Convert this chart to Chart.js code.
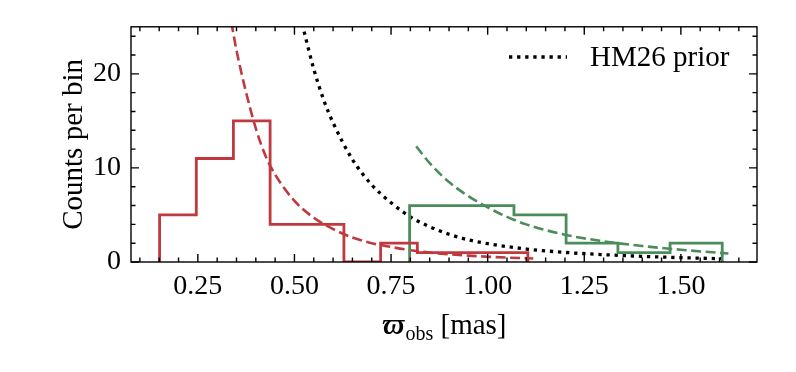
<!DOCTYPE html>
<html>
<head>
<meta charset="utf-8">
<script src="https://cdn.jsdelivr.net/npm/chart.js@4.4.0/dist/chart.umd.min.js"></script>
<style>
  html, body { margin: 0; padding: 0; background: #fff; }
</style>
</head>
<body>
<canvas id="chart" width="796" height="372"></canvas>
<script>
// histogram bins
const redEdges = [0.151, 0.246, 0.342, 0.437, 0.532, 0.628, 0.723, 0.818, 0.914, 1.009, 1.104];
const redCounts = [5, 11, 15, 4, 4, 0, 2, 1, 1, 1];
const greenEdges = [0.798, 0.933, 1.068, 1.203, 1.337, 1.472, 1.607];
const greenCounts = [6, 6, 5, 2, 1, 2];

// dashed model curves (estimated)
const redModelX = [0.33, 0.35, 0.375, 0.40, 0.425, 0.45, 0.50, 0.55, 0.60, 0.65, 0.70, 0.75, 0.80, 0.85, 0.90, 0.95, 1.00, 1.05, 1.118];
const redModelY = [27, 22.5, 18, 14.2, 11.3, 9.3, 6.5, 4.7, 3.5, 2.6, 2.0, 1.6, 1.25, 1.0, 0.82, 0.68, 0.56, 0.47, 0.38];
const greenModelX = [0.815, 0.85, 0.90, 0.95, 1.00, 1.05, 1.10, 1.20, 1.30, 1.40, 1.50, 1.623];
const greenModelY = [12.3, 10.5, 8.5, 7.0, 5.8, 4.8, 4.0, 2.9, 2.2, 1.7, 1.3, 0.9];

// HM26 prior (dotted)
const priorX = [0.51, 0.525, 0.55, 0.575, 0.60, 0.65, 0.70, 0.75, 0.80, 0.85, 0.90, 0.95, 1.00, 1.10, 1.20, 1.30, 1.40, 1.50, 1.607];
const priorY = [27, 24.5, 20.5, 17.3, 14.8, 10.9, 8.2, 6.3, 4.8, 3.75, 2.95, 2.35, 1.95, 1.38, 1.02, 0.78, 0.6, 0.46, 0.35];

const xTicks = [0.25, 0.50, 0.75, 1.00, 1.25, 1.50];
const xMinorTicks = [0.10, 0.15, 0.20, 0.30, 0.35, 0.40, 0.45, 0.55, 0.60, 0.65, 0.70, 0.80, 0.85, 0.90, 0.95, 1.05, 1.10, 1.15, 1.20, 1.30, 1.35, 1.40, 1.45, 1.55, 1.60, 1.65];
const yTicks = [0, 10, 20];
const yMinorTicks = [2, 4, 6, 8, 12, 14, 16, 18, 22, 24];

const RED = '#c0393f';
const GREEN = '#4b8c5b';
const FONT = '"Liberation Serif", "DejaVu Serif", serif';
const DOTS = [3.3, 4.8];

function stepOutline(edges, counts) {
  const pts = [{ x: edges[0], y: 0 }];
  counts.forEach((c, i) => {
    pts.push({ x: edges[i], y: c });
    pts.push({ x: edges[i + 1], y: c });
  });
  pts.push({ x: edges[edges.length - 1], y: 0 });
  return pts;
}

function zipXY(xs, ys) {
  return xs.map((x, i) => ({ x: x, y: ys[i] }));
}

// frame + inward ticks on all four sides, axis titles, legend
const decorations = {
  id: 'decorations',
  afterDraw(chart) {
    const ctx = chart.ctx;
    const a = chart.chartArea;
    const xs = chart.scales.x, ys = chart.scales.y;
    ctx.save();
    ctx.strokeStyle = '#000';
    ctx.lineWidth = 1.4;
    ctx.strokeRect(a.left, a.top, a.right - a.left, a.bottom - a.top);

    const tick = (px, len, vertical) => {
      ctx.beginPath();
      if (vertical) {
        ctx.moveTo(px, a.bottom); ctx.lineTo(px, a.bottom - len);
        ctx.moveTo(px, a.top); ctx.lineTo(px, a.top + len);
      } else {
        ctx.moveTo(a.left, px); ctx.lineTo(a.left + len, px);
        ctx.moveTo(a.right, px); ctx.lineTo(a.right - len, px);
      }
      ctx.stroke();
    };
    xTicks.forEach(v => tick(xs.getPixelForValue(v), 8, true));
    xMinorTicks.forEach(v => tick(xs.getPixelForValue(v), 4.5, true));
    yTicks.forEach(v => tick(ys.getPixelForValue(v), 8, false));
    yMinorTicks.forEach(v => tick(ys.getPixelForValue(v), 4.5, false));

    // x axis title: varpi_obs [mas]
    ctx.fillStyle = '#000';
    ctx.textBaseline = 'alphabetic';
    const big = 'italic bold 29px ' + FONT;
    const sub = '20px ' + FONT;
    const rest = '29px ' + FONT;
    ctx.font = big; const w1 = ctx.measureText('\u03D6').width;
    ctx.font = sub; const w2 = ctx.measureText('obs').width;
    ctx.font = rest; const w3 = ctx.measureText(' [mas]').width;
    let x0 = (a.left + a.right) / 2 - (w1 + w2 + w3) / 2;
    const base = 334;
    ctx.font = big; ctx.fillText('\u03D6', x0, base); x0 += w1 + 1;
    ctx.font = sub; ctx.fillText('obs', x0, base + 6); x0 += w2;
    ctx.font = rest; ctx.fillText(' [mas]', x0, base);

    // y axis title
    ctx.save();
    ctx.translate(74, (a.top + a.bottom) / 2);
    ctx.rotate(-Math.PI / 2);
    ctx.textAlign = 'center';
    ctx.textBaseline = 'middle';
    ctx.font = '29px ' + FONT;
    ctx.fillText('Counts per bin', 0, 0);
    ctx.restore();

    // legend
    ctx.strokeStyle = '#000';
    ctx.lineWidth = DOTS[0];
    ctx.setLineDash(DOTS);
    ctx.beginPath();
    ctx.moveTo(509, 57); ctx.lineTo(567, 57);
    ctx.stroke();
    ctx.setLineDash([]);
    ctx.font = '29px ' + FONT;
    ctx.textAlign = 'left';
    ctx.textBaseline = 'alphabetic';
    ctx.fillText('HM26 prior', 590, 66);
    ctx.restore();
  }
};

new Chart(document.getElementById('chart'), {
  type: 'line',
  data: {
    datasets: [
      {
        label: 'red hist',
        data: stepOutline(redEdges, redCounts),
        borderColor: RED, borderWidth: 2.8, tension: 0, pointRadius: 0, fill: false
      },
      {
        label: 'green hist',
        data: stepOutline(greenEdges, greenCounts),
        borderColor: GREEN, borderWidth: 2.8, tension: 0, pointRadius: 0, fill: false
      },
      {
        label: 'red model',
        data: zipXY(redModelX, redModelY),
        borderColor: RED, borderWidth: 2.6, borderDash: [10, 4.5],
        cubicInterpolationMode: 'monotone', pointRadius: 0, fill: false
      },
      {
        label: 'green model',
        data: zipXY(greenModelX, greenModelY),
        borderColor: GREEN, borderWidth: 2.6, borderDash: [10, 4.5],
        cubicInterpolationMode: 'monotone', pointRadius: 0, fill: false
      },
      {
        label: 'HM26 prior',
        data: zipXY(priorX, priorY),
        borderColor: '#000', borderWidth: DOTS[0], borderDash: DOTS,
        cubicInterpolationMode: 'monotone', pointRadius: 0, fill: false
      }
    ]
  },
  options: {
    responsive: false,
    animation: false,
    layout: { padding: { left: 0, right: 39, top: 19, bottom: 0 } },
    plugins: {
      legend: { display: false },
      tooltip: { enabled: false }
    },
    scales: {
      x: {
        type: 'linear',
        min: 0.077,
        max: 1.697,
        grid: { display: false, drawTicks: false },
        border: { display: false },
        afterBuildTicks: (s) => { s.ticks = xTicks.map(v => ({ value: v })); },
        afterFit: (s) => { s.height = 110; },
        ticks: {
          padding: 8,
          color: '#000',
          font: { family: FONT, size: 28 },
          maxRotation: 0,
          callback: (v) => v.toFixed(2)
        }
      },
      y: {
        type: 'linear',
        min: 0,
        max: 25,
        grid: { display: false, drawTicks: false },
        border: { display: false },
        afterBuildTicks: (s) => { s.ticks = yTicks.map(v => ({ value: v })); },
        afterFit: (s) => { s.width = 131; },
        ticks: {
          padding: 10,
          color: '#000',
          font: { family: FONT, size: 28 },
          callback: (v) => String(v)
        }
      }
    }
  },
  plugins: [decorations]
});
</script>
</body>
</html>
